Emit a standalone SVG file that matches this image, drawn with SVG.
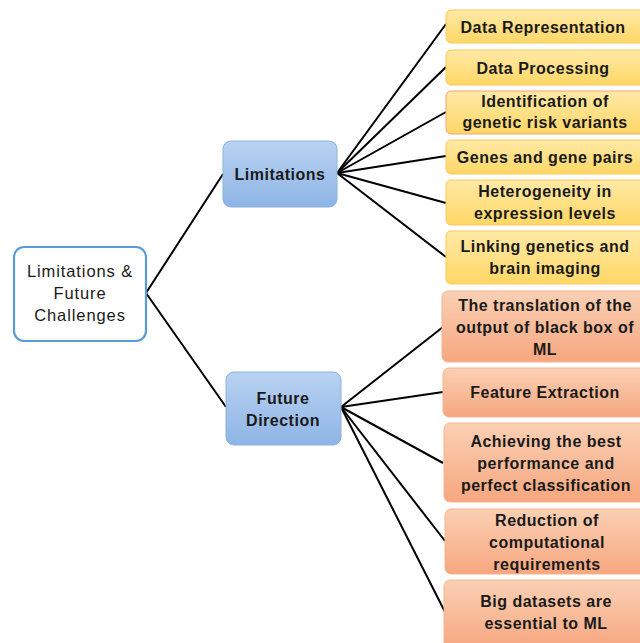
<svg xmlns="http://www.w3.org/2000/svg" width="640" height="643" viewBox="0 0 640 643">
  <defs>
    <linearGradient id="gBlue" x1="0" y1="0" x2="0" y2="1">
      <stop offset="0" stop-color="#B9D2F1"/>
      <stop offset="1" stop-color="#8EB5E6"/>
    </linearGradient>
    <linearGradient id="gYellow" x1="0" y1="0" x2="0" y2="1">
      <stop offset="0" stop-color="#FFE9A6"/>
      <stop offset="1" stop-color="#FFD766"/>
    </linearGradient>
    <linearGradient id="gOrange" x1="0" y1="0" x2="0" y2="1">
      <stop offset="0" stop-color="#FAD0B4"/>
      <stop offset="1" stop-color="#F6A77F"/>
    </linearGradient>
  </defs>
  <style>
    text { font-family: "Liberation Sans", Arial, sans-serif; fill: #1A1A1A; text-anchor: middle; }
    .b { font-weight: bold; font-size: 16px; letter-spacing: 0.5px; }
    .root rect { fill: #FFFFFF; stroke: #5B9BD5; stroke-width: 2.2; }
    .root text { font-size: 16.5px; letter-spacing: 0.9px; }
    .mid rect { fill: url(#gBlue); stroke: #8AB2E0; stroke-width: 1; }
    .yl rect { fill: url(#gYellow); stroke: #F7C95C; stroke-width: 1; }
    .yl.alt rect { stroke: #F4A57A; }
    .or rect { fill: url(#gOrange); stroke: #F6B38F; stroke-width: 1; }
    #connectors line { stroke: #000000; stroke-width: 2; }
  </style>

  <g id="connectors">
    <line x1="146" y1="293" x2="223" y2="174"/>
    <line x1="146" y1="293" x2="226" y2="407"/>
    <line x1="337" y1="173" x2="446" y2="24"/>
    <line x1="337" y1="173" x2="446" y2="67"/>
    <line x1="337" y1="173" x2="446" y2="112"/>
    <line x1="337" y1="173" x2="446" y2="156"/>
    <line x1="337" y1="173" x2="446" y2="203"/>
    <line x1="337" y1="173" x2="446" y2="257"/>
    <line x1="341" y1="407" x2="443" y2="327"/>
    <line x1="341" y1="407" x2="443" y2="392"/>
    <line x1="341" y1="407" x2="443" y2="463"/>
    <line x1="341" y1="407" x2="445" y2="541"/>
    <line x1="341" y1="407" x2="445" y2="612"/>
  </g>

  <g id="root" class="root">
    <rect x="14" y="247" width="132" height="94" rx="10"/>
    <text x="80" y="277">Limitations &amp;</text>
    <text x="80" y="299">Future</text>
    <text x="80" y="321">Challenges</text>
  </g>

  <g id="limitations" class="mid">
    <rect x="223" y="141" width="114" height="66" rx="8"/>
    <text class="b" x="280" y="180">Limitations</text>
  </g>

  <g id="future-direction" class="mid">
    <rect x="226" y="372" width="115" height="73" rx="8"/>
    <text class="b" x="283" y="404">Future</text>
    <text class="b" x="283" y="426">Direction</text>
  </g>

  <g id="data-representation" class="yl">
    <rect x="446" y="10" width="200" height="33" rx="5"/>
    <text class="b" x="543" y="33">Data Representation</text>
  </g>
  <g id="data-processing" class="yl">
    <rect x="446" y="50" width="200" height="35" rx="5"/>
    <text class="b" x="543" y="74">Data Processing</text>
  </g>
  <g id="identification" class="yl alt">
    <rect x="446" y="91" width="200" height="43" rx="5"/>
    <text class="b" x="545" y="107">Identification of</text>
    <text class="b" x="545" y="128">genetic risk variants</text>
  </g>
  <g id="genes" class="yl">
    <rect x="446" y="140" width="200" height="34" rx="5"/>
    <text class="b" x="545" y="163">Genes and gene pairs</text>
  </g>
  <g id="heterogeneity" class="yl">
    <rect x="446" y="180" width="200" height="45" rx="5"/>
    <text class="b" x="545" y="197">Heterogeneity in</text>
    <text class="b" x="545" y="219">expression levels</text>
  </g>
  <g id="linking" class="yl">
    <rect x="446" y="231" width="200" height="53" rx="5"/>
    <text class="b" x="545" y="252">Linking genetics and</text>
    <text class="b" x="545" y="274">brain imaging</text>
  </g>

  <g id="translation" class="or">
    <rect x="442" y="291" width="204" height="71" rx="6"/>
    <text class="b" x="545" y="311">The translation of the</text>
    <text class="b" x="545" y="333">output of black box of</text>
    <text class="b" x="545" y="355">ML</text>
  </g>
  <g id="feature-extraction" class="or">
    <rect x="443" y="368" width="203" height="49" rx="6"/>
    <text class="b" x="545" y="398">Feature Extraction</text>
  </g>
  <g id="achieving" class="or">
    <rect x="444" y="423" width="202" height="79" rx="6"/>
    <text class="b" x="546" y="447">Achieving the best</text>
    <text class="b" x="546" y="469">performance and</text>
    <text class="b" x="546" y="491">perfect classification</text>
  </g>
  <g id="reduction" class="or">
    <rect x="445" y="509" width="201" height="65" rx="6"/>
    <text class="b" x="547" y="526">Reduction of</text>
    <text class="b" x="547" y="548">computational</text>
    <text class="b" x="547" y="570">requirements</text>
  </g>
  <g id="big-datasets" class="or">
    <rect x="444" y="580" width="202" height="70" rx="6"/>
    <text class="b" x="546" y="607">Big datasets are</text>
    <text class="b" x="546" y="629">essential to ML</text>
  </g>
</svg>
